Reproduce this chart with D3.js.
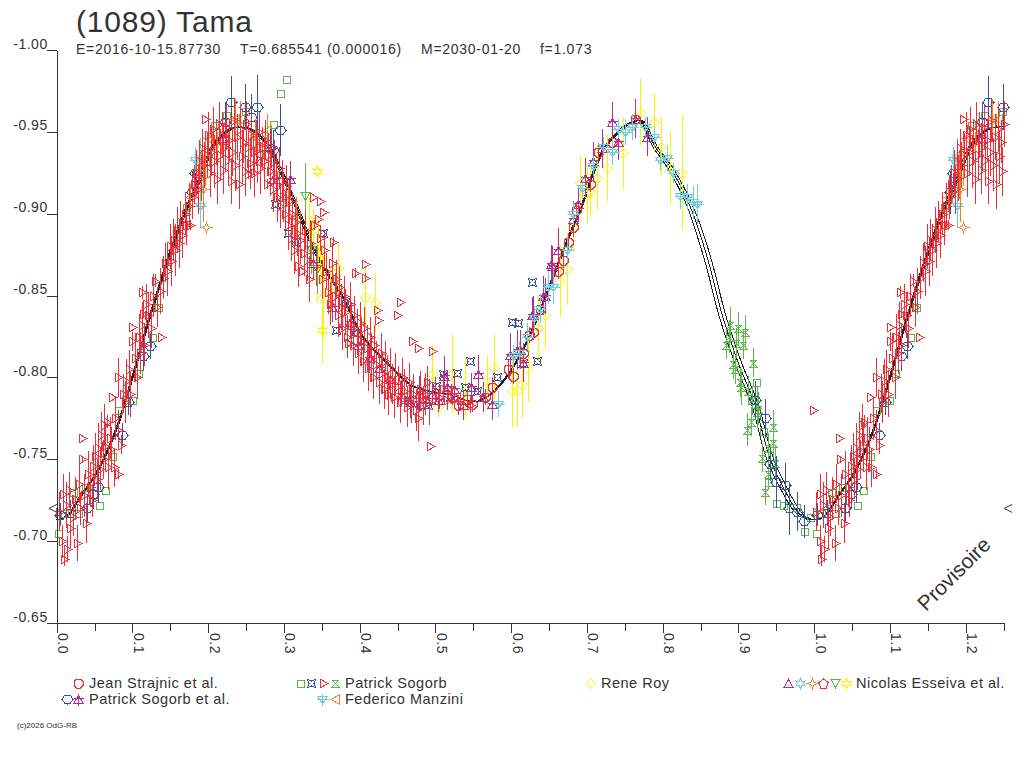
<!DOCTYPE html>
<html>
<head>
<meta charset="utf-8">
<title>(1089) Tama</title>
<script src="https://d3js.org/d3.v7.min.js"></script>
<style>
  html, body { margin: 0; padding: 0; background: #fff; }
  svg { display: block; font-family: "Liberation Sans", Arial, sans-serif; fill: #333; }
</style>
</head>
<body>
<svg id="chart" width="1024" height="768"></svg>
<script>
// values: [phase, reduced magnitude, error]
const yTicks = [-1.00, -0.95, -0.90, -0.85, -0.80, -0.75, -0.70, -0.65];
const xMajor = [0, 0.1, 0.2, 0.3, 0.4, 0.5, 0.6, 0.7, 0.8, 0.9, 1.0, 1.1, 1.2];
const xMinor = [0.05, 0.15, 0.25, 0.35, 0.45, 0.55, 0.65, 0.75, 0.85, 0.95, 1.05, 1.15, 1.25];
const fitPhase = [0, 0.015, 0.031, 0.053, 0.08, 0.1, 0.123, 0.15, 0.172, 0.189, 0.206, 0.242, 0.277, 0.295, 0.317, 0.341, 0.361, 0.374, 0.404, 0.438, 0.469, 0.489, 0.523, 0.55, 0.576, 0.598, 0.62, 0.655, 0.678, 0.691, 0.717, 0.744, 0.77, 0.79, 0.814, 0.84, 0.849, 0.862, 0.878, 0.898, 0.924, 0.939, 0.959, 0.985, 1];
const fitMag = [-0.713, -0.716, -0.727, -0.742, -0.77, -0.80, -0.837, -0.876, -0.904, -0.921, -0.941, -0.953, -0.943, -0.927, -0.904, -0.877, -0.861, -0.852, -0.825, -0.808, -0.795, -0.792, -0.789, -0.785, -0.791, -0.803, -0.821, -0.861, -0.888, -0.902, -0.935, -0.951, -0.957, -0.941, -0.925, -0.90, -0.888, -0.868, -0.839, -0.811, -0.78, -0.754, -0.733, -0.715, -0.713];
// phase spread of the upper and lower fit lines
const fitSpread = [.001, .001, .001, .001, .001, .001, .001, .0015, .0015, .002, .002, .002, .002, .002, .002, .0015, .0015, .001, .001, .001, .001, .001, .001, .001, .001, .001, .001, .001, .001, .001, .0015, .002, .002, .003, .0035, .004, .0045, .0045, .0045, .0045, .0045, .0045, .0045, .0035, .002];
const fitSide = [-1, 0, 1];
const epochPhase = [-0.005, 1.256];
const epochMag = [-0.72, -0.72];

const redTriangles = [
[.003,-.718,.012],[.008,-.729,.012],[.007,-.700,.01],[.013,-.695,.008],[.009,-.689,.004],[.018,-.708,.013],[.012,-.722,.014],[.016,-.731,.011],[.021,-.715,.012],[.024,-.726,.013],[.027,-.699,.011],[.029,-.735,.012],[.031,-.720,.010],[.034,-.750,.002],[.033,-.763,0],[.036,-.728,.013],[.039,-.711,.012],[.041,-.741,.014],[.044,-.733,.012],[.046,-.725,.010],[.048,-.746,.013],
[.051,-.752,.014],[.053,-.738,.012],[.055,-.757,.015],[.057,-.744,.013],[.059,-.765,.014],[.061,-.750,.012],[.063,-.771,.013],[.064,-.758,.015],[.066,-.773,.004],[.068,-.745,.014],[.070,-.763,.013],[.073,-.788,0],[.072,-.756,.014],[.075,-.745,.012],[.077,-.775,.013],[.081,-.741,.003],[.081,-.768,.012],[.085,-.759,.006],[.081,-.80,.012],[.088,-.79,.012],[.090,-.785,.013],[.092,-.798,.013],[.095,-.805,.012],[.097,-.79,.014],[.100,-.822,.006],[.100,-.831,0],
[.103,-.812,.015],[.106,-.80,.013],[.108,-.825,.014],[.110,-.815,.013],[.113,-.852,.004],[.114,-.839,.003],[.112,-.832,.014],[.115,-.82,.013],[.118,-.845,.012],[.121,-.838,.014],[.124,-.83,.012],[.127,-.85,.013],[.130,-.859,.004],[.138,-.825,0],[.133,-.843,.012],[.136,-.853,.014],[.14,-.861,.013],[.143,-.87,.012],[.146,-.865,.015],[.149,-.88,.014],
[.151,-.871,.015],[.153,-.884,.013],[.156,-.878,.016],[.159,-.89,.014],[.161,-.882,.015],[.163,-.895,.013],[.166,-.887,.014],[.169,-.9,.013],[.171,-.893,.012],[.176,-.893,.003],[.174,-.905,.014],[.178,-.91,.013],[.181,-.918,.012],[.184,-.925,.014],[.186,-.915,.015],[.188,-.932,.013],[.19,-.922,.014],[.192,-.94,.012],[.194,-.93,.014],[.196,-.958,0],[.198,-.936,.013],
[.200,-.948,.014],[.202,-.925,.015],[.204,-.938,.015],[.206,-.952,.013],[.208,-.932,.016],[.21,-.944,.014],[.212,-.921,.015],[.214,-.955,.013],[.216,-.936,.016],[.218,-.948,.014],[.22,-.927,.015],[.222,-.941,.015],[.224,-.953,.014],[.226,-.933,.016],[.228,-.945,.013],[.23,-.92,.014],[.232,-.938,.015],[.234,-.957,.013],[.236,-.93,.016],[.238,-.947,.014],[.24,-.918,.015],[.242,-.952,.014],[.244,-.935,.016],[.246,-.944,.013],[.248,-.926,.015],[.25,-.955,.014],[.253,-.924,.003],[.252,-.941,.015],[.255,-.931,.016],[.257,-.948,.013],[.259,-.938,.014],[.261,-.925,.015],[.263,-.943,.014],[.265,-.934,.015],[.267,-.95,.012],[.269,-.928,.016],[.271,-.94,.013],[.273,-.932,.014],[.275,-.945,.012],[.277,-.918,.003],[.279,-.936,.013],[.281,-.926,.015],[.283,-.94,.012],[.285,-.915,.014],[.287,-.932,.013],[.289,-.922,.014],[.291,-.91,.015],[.293,-.928,.013],[.295,-.905,.014],[.297,-.92,.013],[.299,-.91,.015],
[.301,-.9,.014],[.303,-.917,.013],[.305,-.893,.015],[.307,-.908,.014],[.309,-.885,.014],[.311,-.9,.013],[.313,-.878,.015],[.315,-.895,.014],[.317,-.888,.014],[.319,-.868,.013],[.321,-.884,.015],[.324,-.865,0],[.326,-.876,.014],[.328,-.89,.012],[.33,-.872,.013],[.333,-.86,.014],[.335,-.882,.014],[.338,-.91,0],[.348,-.908,0],[.352,-.901,0],[.345,-.897,0],[.340,-.893,.003],[.342,-.868,.012],[.347,-.885,.008],[.35,-.86,.012],[.353,-.878,.012],[.356,-.865,.011],[.358,-.852,.013],
[.361,-.845,.013],[.363,-.87,.012],[.365,-.883,.003],[.367,-.85,.014],[.369,-.86,.012],[.371,-.838,.013],[.373,-.855,.013],[.375,-.843,.014],[.377,-.83,.013],[.379,-.85,.012],[.381,-.84,.014],[.383,-.825,.013],[.385,-.821,0],[.387,-.845,.013],[.389,-.832,.014],[.391,-.82,.013],[.393,-.838,.012],[.394,-.864,.003],[.396,-.828,.014],[.398,-.815,.013],[.4,-.833,.013],[.402,-.822,.015],[.404,-.81,.013],[.406,-.83,.013],[.407,-.869,0],[.407,-.861,.003],[.409,-.818,.014],[.411,-.806,.014],[.413,-.825,.012],[.415,-.812,.015],[.417,-.8,.013],[.419,-.82,.012],[.421,-.808,.014],[.423,-.841,0],[.424,-.835,0],[.426,-.797,.013],[.428,-.815,.012],[.43,-.803,.013],[.432,-.793,.012],[.434,-.81,.012],[.436,-.8,.014],[.438,-.79,.013],[.44,-.806,.012],[.442,-.796,.012],[.445,-.788,.013],[.447,-.802,.013],[.449,-.838,0],[.453,-.846,0],[.45,-.795,.012],[.453,-.785,.013],[.456,-.8,.012],[.459,-.792,.013],[.462,-.782,.012],[.465,-.797,.012],[.469,-.822,0],[.477,-.818,0],[.468,-.785,.013],[.471,-.79,.012],[.474,-.78,.013],[.477,-.775,.014],[.48,-.793,.011],[.483,-.783,.012],[.486,-.79,.013],[.489,-.797,.01],[.493,-.758,0],[.495,-.816,0],[.492,-.785,.014],
[.5,-.792,.008],[.505,-.788,.007],[.51,-.793,.008],[.515,-.786,.006],[.52,-.79,.006],[.532,-.786,.005],[.545,-.783,.005],[.999,-.78,0]
];
const redCircles = [
[.522,-.788,.005],[.53,-.783,.006],[.542,-.787,.005],[.548,-.784,.005],[.565,-.788,.005],[.575,-.794,.006],[.596,-.805,.006],[.603,-.801,.005],[.616,-.815,.005],[.623,-.826,.005],[.629,-.828,.005],[.638,-.842,.005],[.662,-.865,.005],[.669,-.872,.005],[.675,-.883,.005],[.686,-.902,.005],[.681,-.892,.004],[.704,-.918,.005],[.714,-.938,.005],[.733,-.944,.005],[.763,-.958,.005]
];
const bluePentagons = [
[.004,-.716,.007],[.017,-.717,.008],[.04,-.72,.009],[.048,-.729,.009],[.055,-.733,.01],[.086,-.765,.007],[.094,-.785,.008],[.114,-.813,.009],[.123,-.819,.008],[.179,-.913,.013],[.183,-.925,.01],[.222,-.956,.012],[.230,-.968,.016],[.249,-.965,.014],[.264,-.965,.02],[.257,-.959,.014],[.282,-.94,.012],[.286,-.939,.012],[.295,-.951,.016],
[.922,-.786,.012],[.935,-.775,.012],[.941,-.747,.01],[.95,-.736,.016],[.962,-.734,.014],[.967,-.72,.016],[.977,-.718,.012],[.987,-.712,.01]
];
const blueCrosses = [
[.288,-.906,0],[.305,-.888,0],[.315,-.883,0],[.351,-.888,0],[.369,-.829,0],[.38,-.846,0],[.394,-.827,0],[.464,-.786,0],[.48,-.783,0],[.49,-.783,0],[.501,-.795,0],[.51,-.802,0],[.519,-.788,0],[.528,-.803,0],[.539,-.794,0],[.546,-.81,0],[.555,-.792,0],[.581,-.80,0],[.601,-.834,0],[.609,-.833,0],[.616,-.809,0],[.628,-.858,0],[.634,-.81,0]
];
const magentaStars = [
[.22,-.946,.006],[.286,-.921,.01],[.308,-.921,.011],[.338,-.87,.01],[.363,-.843,.009],[.387,-.834,.01],[.398,-.82,.008],[.412,-.812,.009],[.425,-.806,.009],[.44,-.799,.012],[.455,-.79,.008],[.467,-.785,.01],[.478,-.79,.011],[.486,-.787,.009],[.495,-.79,.007],[.503,-.786,.007],[.511,-.801,.012],[.515,-.794,.01],[.524,-.793,.01],[.536,-.783,.009],[.547,-.794,.009],[.556,-.802,.012],[.563,-.788,.009],[.575,-.784,.01],[.599,-.814,.013],[.607,-.817,.012],[.611,-.817,.012],[.616,-.809,.012],[.628,-.838,.011],[.629,-.838,.012],[.642,-.85,.012],[.644,-.85,.011],[.652,-.869,.012],[.654,-.868,.012],[.662,-.878,.013],[.681,-.897,.011],[.688,-.906,.011],[.698,-.922,.012],[.708,-.932,.012],[.72,-.94,.012],[.733,-.956,.012],[.741,-.944,.011],[.763,-.958,.012],[.779,-.947,.012]
];
const greenSquares = [
[.002,-.705,0],[.009,-.717,0],[.022,-.73,0],[.028,-.717,0],[.037,-.733,0],[.056,-.722,0],[.064,-.731,0],[.073,-.752,0],[.081,-.78,0],[.099,-.786,0],[.107,-.803,0],[.126,-.825,0],[.134,-.843,0],[.171,-.904,0],[.207,-.954,0],[.224,-.96,0],[.248,-.963,0],[.267,-.937,0],[.286,-.955,0],[.295,-.974,0],[.303,-.982,0],
[.923,-.797,0],[.932,-.767,0],[.939,-.736,0],[.949,-.723,0],[.959,-.722,0],[.976,-.721,0],[.986,-.706,0],[.995,-.715,0]
];
const greenBowties = [
[.889,-.832,.011],[.899,-.83,.01],[.909,-.828,.01],[.887,-.825,.01],[.897,-.821,.009],[.906,-.82,.009],[.884,-.82,.009],[.919,-.809,.009],[.893,-.808,.009],[.895,-.805,.009],[.902,-.797,.009],[.904,-.794,.011],[.913,-.792,.009],[.918,-.786,.009],[.924,-.784,.01],[.926,-.781,.01],[.924,-.779,.01],[.916,-.773,.009],[.911,-.768,.01],[.945,-.77,.01],[.946,-.76,.009],[.939,-.757,.009],[.931,-.751,.009],[.948,-.748,.01],[.939,-.741,.01],[.935,-.73,.008]
];
const yellowDiamonds = [
[.343,-.86,.014],[.352,-.849,.025],[.361,-.853,.014],[.371,-.867,.016],[.407,-.849,.018],[.42,-.846,.018],[.495,-.802,.018],[.504,-.782,.006],[.522,-.802,.024],[.539,-.793,.018],[.568,-.797,.017],[.577,-.806,.02],[.601,-.792,.022],[.607,-.792,.022],[.614,-.796,.021],[.622,-.805,.02],[.636,-.83,.02],[.644,-.838,.02],[.665,-.859,.022],[.673,-.866,.022],[.681,-.892,.015],[.691,-.919,.017],[.7,-.912,.018],[.704,-.913,.015],[.713,-.922,.02],[.727,-.928,.02],[.748,-.937,.022],[.77,-.962,.02],[.789,-.956,.018],[.798,-.941,.018],[.809,-.928,.022],[.825,-.925,.035],
[.35,-.866,.012],[.347,-.872,.014],[.345,-.88,.016],[.339,-.89,.013],[.333,-.896,.014]
];
const cyanFlakes = [
[.183,-.933,.008],[.189,-.934,.012],[.189,-.905,.014],[.582,-.784,.008],[.603,-.813,.007],[.61,-.815,.007],[.621,-.825,.008],[.63,-.836,.007],[.638,-.842,.009],[.649,-.855,.01],[.655,-.855,.01],[.673,-.878,.008],[.682,-.9,.007],[.694,-.916,.007],[.708,-.929,.006],[.721,-.941,.006],[.733,-.938,.008],[.741,-.952,.006],[.75,-.95,.008],[.76,-.953,.008],[.776,-.953,.006],[.788,-.947,.006],[.797,-.933,.006],[.805,-.934,.008],[.814,-.925,.006],[.823,-.911,.008],[.832,-.91,.008],[.84,-.907,.01],[.845,-.906,.012]
];
const orangeLeft = [
[.176,-.91,.008],[.191,-.924,.015],[.196,-.932,.015],[.2,-.946,.012],[.212,-.94,.01],[.235,-.958,.012],[.242,-.958,.011],[.262,-.948,.01],[.277,-.951,.01],[.305,-.908,.011],[.316,-.898,.012],[.362,-.85,.01]
];
const orangeFourStars = [[.193,-.915,.02],[.197,-.892,0]];
const greenDownTriangles = [[.328,-.911,.02],[.336,-.878,.015],[.344,-.866,.015]];
const yellowSixStars = [[.343,-.926,0],[.35,-.829,.02]];

const legendNames = ["Jean Strajnic et al.", "Patrick Sogorb et al.", "Patrick Sogorb", "Federico Manzini", "Rene Roy", "Nicolas Esseiva et al."];

const red = "#ee2e36", blue = "#3953a4", green = "#5cb947", magenta = "#b2308c", cyan = "#6dcfdd", yellow = "#fff200", orange = "#f58220";

// marker outlines, all around 0,0
const glyph = {
  circle: "M-2,-4.5H2L4.5,-2V2L2,4.5H-2L-4.5,2V-2Z",
  pent: "M-5.5,0L-3,-4H3L5.5,0L3,3.5L0,4.5L-3,3.5Z",
  tristar: "M0,-4L-5,4H5ZM-5,-1H5M0,-6V6",
  square: "M-3.5,-3.5H3.5V3.5H-3.5Z",
  cross: "M-4,-4L0,-2.5L4,-4L2.5,0L4,4L0,2.5L-4,4L-2.5,0Z",
  right: "M-3.5,-4.5L4.5,0L-3.5,4.5Z",
  bowtie: "M-3.5,-3.5H3.5L-3.5,3.5H3.5Z",
  flake: "M-5,-3H5L0,4ZM-6,0H6M0,-6V6",
  left: "M3.5,-4.5L-4.5,0L3.5,4.5Z",
  diamond: "M0,-5L5,0L0,5L-5,0Z",
  up: "M0,-4L4.5,4H-4.5Z",
  down: "M-4.5,-4H4.5L0,4Z",
  six: "M0,-5L1.5,-2L4.5,-2.5L3,0L4.5,2.5L1.5,2L0,5L-1.5,2L-4.5,2.5L-3,0L-4.5,-2.5L-1.5,-2Z",
  four: "M0,-5L1.5,-1.5L5,0L1.5,1.5L0,5L-1.5,1.5L-5,0L-1.5,-1.5Z",
  pentagon: "M0,-4.5L4.5,-1L3,4.5H-3L-4.5,-1Z",
  chevron: "M4,-4L-4,0L4,4"
};

const series = [
  { pts: greenBowties, sym: "bowtie", col: green },
  { pts: greenSquares, sym: "square", col: green },
  { pts: yellowDiamonds, sym: "diamond", col: yellow },
  { pts: yellowSixStars, sym: "six", col: yellow },
  { pts: greenDownTriangles, sym: "down", col: green },
  { pts: blueCrosses, sym: "cross", col: blue },
  { pts: bluePentagons, sym: "pent", col: blue },
  { pts: magentaStars, sym: "tristar", col: magenta },
  { pts: redCircles, sym: "circle", col: red },
  { pts: cyanFlakes, sym: "flake", col: cyan },
  { pts: orangeFourStars, sym: "four", col: orange },
  { pts: orangeLeft, sym: "left", col: orange },
  { pts: redTriangles, sym: "right", col: red }
];

const legend = [
  { name: legendNames[0], tx: 89, ty: 688, marks: [["circle", red, 78]] },
  { name: legendNames[1], tx: 89, ty: 704, marks: [["pent", blue, 67], ["tristar", magenta, 78]] },
  { name: legendNames[2], tx: 345, ty: 688, marks: [["square", green, 300], ["cross", blue, 311], ["right", red, 323], ["bowtie", green, 335]] },
  { name: legendNames[3], tx: 345, ty: 704, marks: [["flake", cyan, 322], ["left", orange, 335]] },
  { name: legendNames[4], tx: 601, ty: 688, marks: [["diamond", yellow, 590]] },
  { name: legendNames[5], tx: 856, ty: 688, marks: [["up", magenta, 788], ["six", cyan, 800], ["four", orange, 812], ["pentagon", red, 823], ["down", green, 835], ["six", yellow, 846]] }
];

const svg = d3.select("#chart");
const x = d3.scaleLinear().domain([0, 1.25]).range([56.7, 1003.6]);
const y = d3.scaleLinear().domain([-1.00, -0.65]).range([50, 623]);

// points before phase 0.25 are plotted again one period later
const wrap = pts => pts.concat(pts.filter(d => d[0] <= 0.25).map(d => [d[0] + 1, d[1], d[2]]));

const fit = fitPhase.map((p, i) => [p, fitMag[i], fitSpread[i]]);
const fitFull = fit.concat(fit.filter(d => d[0] > 0 && d[0] <= 0.25).map(d => [d[0] + 1, d[1], d[2]]));
const fitFullEnd = fitFull.concat([[1.25, -0.953, 0.002]]);

const line = d3.line().x(d => x(d[0])).y(d => y(d[1])).curve(d3.curveMonotoneX);
fitSide.forEach(s => {
  svg.append("path")
    .attr("d", line(fitFullEnd.map(d => [d[0] + s * d[2], d[1]])))
    .attr("fill", "none")
    .attr("stroke", "#222")
    .attr("stroke-width", 1)
    .attr("shape-rendering", "crispEdges");
});

svg.selectAll(".epoch")
  .data(epochPhase.map((p, i) => [p, epochMag[i]]))
  .enter().append("path")
  .attr("d", glyph.chevron)
  .attr("transform", d => `translate(${x(d[0])},${y(d[1])})`)
  .attr("fill", "none")
  .attr("stroke", "#333");

series.forEach(s => {
  const g = svg.append("g").attr("shape-rendering", "crispEdges");
  const pts = wrap(s.pts);
  g.selectAll("line").data(pts.filter(d => d[2] > 0)).enter().append("line")
    .attr("x1", d => Math.round(x(d[0])) + 0.5)
    .attr("x2", d => Math.round(x(d[0])) + 0.5)
    .attr("y1", d => y(d[1] - d[2]))
    .attr("y2", d => y(d[1] + d[2]))
    .attr("stroke", s.col)
    .attr("stroke-width", 1.5);
  g.selectAll("path").data(pts).enter().append("path")
    .attr("d", glyph[s.sym])
    .attr("transform", d => `translate(${Math.round(x(d[0])) + 0.5},${Math.round(y(d[1])) + 0.5})`)
    .attr("fill", "none")
    .attr("stroke", s.col)
    .attr("stroke-width", 1);
});

// axes
const axisColor = "#333";
const plainMinus = f => d => d3.format(f)(d).replace("\u2212", "-");
const yAxis = svg.append("g").attr("transform", "translate(56.7,0)")
  .call(d3.axisLeft(y).tickValues(yTicks).tickSize(10).tickSizeOuter(0).tickFormat(plainMinus(".2f")));
yAxis.selectAll("text")
  .attr("x", -9).attr("y", -2).attr("dy", 0)
  .attr("text-anchor", "end")
  .attr("font-size", 14).attr("font-family", "Liberation Sans").attr("letter-spacing", 0.5)
  .attr("fill", axisColor);

const xAxis = svg.append("g").attr("transform", "translate(0,623)")
  .call(d3.axisBottom(x).tickValues(xMajor).tickSize(10).tickSizeOuter(0).tickFormat(d3.format(".1f")));
xAxis.selectAll("text")
  .attr("transform", "rotate(90)")
  .attr("x", 10).attr("y", -1).attr("dy", 0)
  .attr("text-anchor", "start")
  .attr("font-size", 14).attr("font-family", "Liberation Sans").attr("letter-spacing", 0.5)
  .attr("fill", axisColor);
svg.append("g").attr("transform", "translate(0,623)")
  .call(d3.axisBottom(x).tickValues(xMinor).tickSize(8).tickSizeOuter(0).tickFormat(""));
svg.selectAll(".domain, .tick line").attr("stroke", axisColor).attr("shape-rendering", "crispEdges");

// header
svg.append("text").text("(1089) Tama")
  .attr("x", 76).attr("y", 32).attr("font-size", 30).attr("letter-spacing", 0.8);
const header = [["E=2016-10-15.87730", 76], ["T=0.685541 (0.000016)", 240], ["M=2030-01-20", 421], ["f=1.073", 540]];
svg.selectAll(".head").data(header).enter().append("text")
  .attr("class", "head")
  .text(d => d[0])
  .attr("x", d => d[1]).attr("y", 54)
  .attr("font-size", 14).attr("letter-spacing", 0.72);

svg.append("text").text("Provisoire")
  .attr("transform", "translate(926,612) rotate(-45)")
  .attr("font-size", 21);

// legend
legend.forEach(l => {
  svg.append("text").text(l.name)
    .attr("x", l.tx).attr("y", l.ty)
    .attr("font-size", 14.5).attr("letter-spacing", 0.5);
  l.marks.forEach(m => {
    svg.append("path")
      .attr("d", glyph[m[0]])
      .attr("transform", `translate(${m[2] + 0.5},${l.ty - 5 + 0.5})`)
      .attr("fill", "none")
      .attr("stroke", m[1])
      .attr("shape-rendering", "crispEdges");
  });
});

svg.append("text").text("(c)2026 OdG-RB")
  .attr("x", 17).attr("y", 728)
  .attr("font-size", 8);
</script>
</body>
</html>
